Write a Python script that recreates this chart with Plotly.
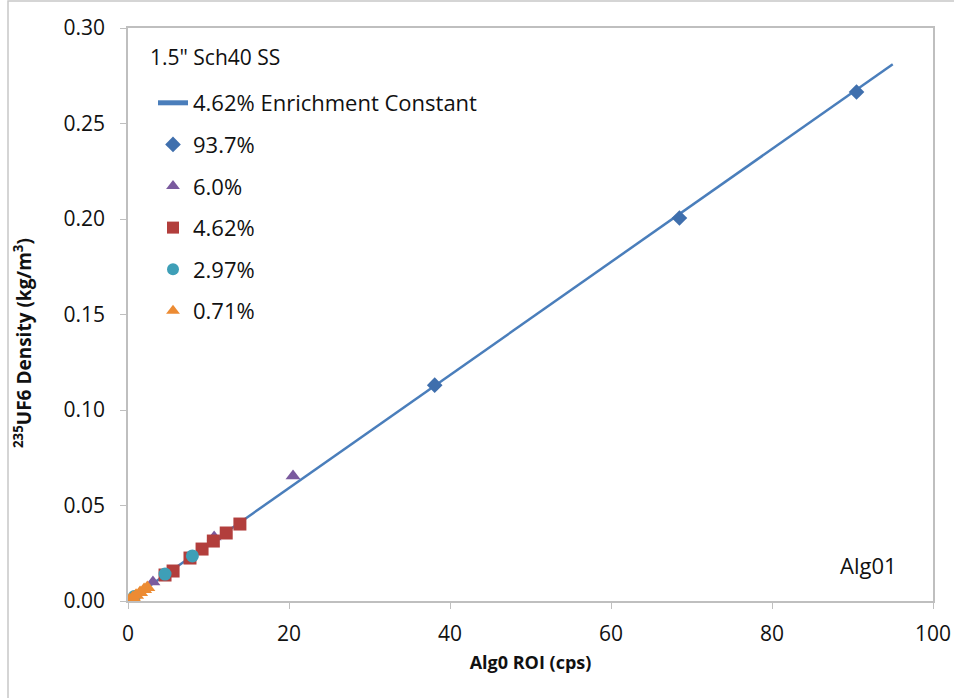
import plotly.graph_objects as go

# Data
line_x = [0.0, 95.0]
line_y = [0.0, 0.281]

x_937 = [38.1, 68.5, 90.5]
y_937 = [0.113, 0.2005, 0.2665]

x_60 = [3.1, 10.7, 20.5]
y_60 = [0.0099, 0.0335, 0.0654]

x_462 = [4.6, 5.6, 7.7, 9.2, 10.6, 12.2, 13.9]
y_462 = [0.0136, 0.0157, 0.0225, 0.0272, 0.0314, 0.0356, 0.0403]

x_297 = [0.8, 4.6, 8.0]
y_297 = [0.0024, 0.0141, 0.0236]

x_071 = [0.2, 0.6, 1.0, 1.5, 2.0, 2.4]
y_071 = [0.0006, 0.0018, 0.0030, 0.0045, 0.0060, 0.0071]

x_ticks = [0, 20, 40, 60, 80, 100]
y_ticks = [0.00, 0.05, 0.10, 0.15, 0.20, 0.25, 0.30]

FONT = "Open Sans"
TXT = "#111111"

fig = go.Figure()
fig.add_trace(go.Scatter(x=line_x, y=line_y, mode="lines", name="4.62% Enrichment Constant",
                         line=dict(color="#4A7EBB", width=2.5), legendgroup="a"))
fig.add_trace(go.Scatter(x=x_937, y=y_937, mode="markers", name="93.7%", legendgroup="b",
                         marker=dict(symbol="diamond", size=12, color="#3F6FAD")))
fig.add_trace(go.Scatter(x=x_60, y=y_60, mode="markers", name="6.0%", legendgroup="c",
                         marker=dict(symbol="triangle-up", size=13, color="#7A5A9E")))
fig.add_trace(go.Scatter(x=x_462, y=y_462, mode="markers", name="4.62%", legendgroup="d",
                         marker=dict(symbol="square", size=13, color="#B23E3C")))
fig.add_trace(go.Scatter(x=x_297, y=y_297, mode="markers", name="2.97%", legendgroup="e",
                         marker=dict(symbol="circle", size=13, color="#3E9FB7")))
fig.add_trace(go.Scatter(x=x_071, y=y_071, mode="markers", name="0.71%", legendgroup="f",
                         marker=dict(symbol="triangle-up", size=14, color="#EC8B33")))

W, H = 954, 698
L, R, T, B = 128, 21, 28, 97
pw, ph = W - L - R, H - T - B

def px2paper_x(px):
    return (px - L) / pw

def px2paper_y(py):
    return (H - B - py) / ph

fig.update_layout(
    width=W, height=H,
    margin=dict(l=L, r=R, t=T, b=B, autoexpand=False),
    paper_bgcolor="white", plot_bgcolor="white",
    font=dict(family=FONT, size=20, color=TXT),
    showlegend=True,
    legend=dict(
        x=px2paper_x(153), y=px2paper_y(82), xanchor="left", yanchor="top",
        bgcolor="rgba(0,0,0,0)",
        font=dict(family=FONT, size=22, color=TXT),
        tracegroupgap=10,
        itemwidth=30,
        itemsizing="constant",
    ),
    xaxis=dict(
        range=[0, 100], tickvals=x_ticks, ticktext=[str(v) for v in x_ticks],
        showgrid=False, zeroline=False, showline=True, mirror=True, automargin=False,
        linecolor="#BFBFBF", linewidth=1.5, ticks="outside", ticklen=6, tickcolor="#BFBFBF",
        tickfont=dict(family=FONT, size=21, color=TXT), ticklabelstandoff=7,
        title=dict(text="<b>Alg0 ROI (cps)</b>", font=dict(family=FONT, size=18, color=TXT), standoff=10),
    ),
    yaxis=dict(
        range=[0, 0.30], tickvals=y_ticks, ticktext=["%.2f" % v for v in y_ticks],
        showgrid=False, zeroline=False, showline=True, mirror=True, automargin=False,
        linecolor="#BFBFBF", linewidth=1.5, ticks="outside", ticklen=6, tickcolor="#BFBFBF",
        tickfont=dict(family=FONT, size=21, color=TXT), ticklabelstandoff=11,
    ),
    annotations=[
        dict(text="<b><sup>235</sup>UF6 Density (kg/m<sup>3</sup>)</b>", textangle=-90,
             xref="paper", yref="paper", x=px2paper_x(23), y=px2paper_y(343),
             xanchor="center", yanchor="middle", showarrow=False,
             font=dict(family=FONT, size=19, color=TXT)),
        dict(text='1.5" Sch40 SS', xref="paper", yref="paper", x=px2paper_x(148), y=px2paper_y(57),
             xanchor="left", yanchor="middle", showarrow=False,
             font=dict(family=FONT, size=21, color=TXT)),
        dict(text="Alg01", xref="paper", yref="paper", x=px2paper_x(899), y=px2paper_y(565),
             xanchor="right", yanchor="middle", showarrow=False,
             font=dict(family=FONT, size=22, color=TXT)),
    ],
    shapes=[
        dict(type="rect", xref="paper", yref="paper",
             x0=px2paper_x(8), x1=px2paper_x(970), y0=px2paper_y(1), y1=px2paper_y(710),
             line=dict(color="#C8C8C8", width=1.5), fillcolor="rgba(0,0,0,0)", layer="below"),
    ],
)

fig.write_html("out.html")
